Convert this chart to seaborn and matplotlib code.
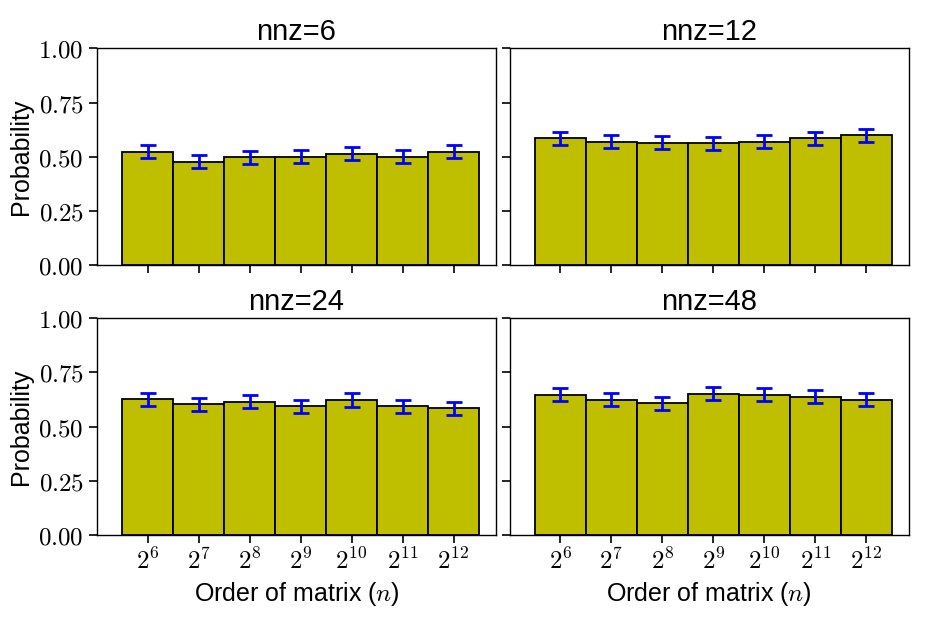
import numpy as np
import pandas as pd
import matplotlib
matplotlib.use("Agg")
import matplotlib.pyplot as plt
import seaborn as sns

# --- data ---
orders = [r"$2^{6}$", r"$2^{7}$", r"$2^{8}$", r"$2^{9}$", r"$2^{10}$", r"$2^{11}$", r"$2^{12}$"]
nnz_values = [6, 12, 24, 48]
prob_nnz6 = [0.523, 0.477, 0.497, 0.499, 0.515, 0.499, 0.523]
prob_nnz12 = [0.586, 0.569, 0.564, 0.563, 0.569, 0.586, 0.600]
prob_nnz24 = [0.626, 0.603, 0.615, 0.595, 0.623, 0.595, 0.586]
prob_nnz48 = [0.647, 0.624, 0.608, 0.651, 0.647, 0.639, 0.624]
err_nnz6 = [0.03, 0.03, 0.03, 0.03, 0.03, 0.03, 0.03]
err_nnz12 = [0.03, 0.03, 0.03, 0.03, 0.03, 0.03, 0.03]
err_nnz24 = [0.03, 0.03, 0.03, 0.03, 0.03, 0.03, 0.03]
err_nnz48 = [0.03, 0.03, 0.03, 0.03, 0.03, 0.03, 0.03]
yticks = [0.0, 0.25, 0.5, 0.75, 1.0]
ytick_labels = [r"$0.00$", r"$0.25$", r"$0.50$", r"$0.75$", r"$1.00$"]

probs = [prob_nnz6, prob_nnz12, prob_nnz24, prob_nnz48]
errs = [err_nnz6, err_nnz12, err_nnz24, err_nnz48]

sns.set_style("ticks")
plt.rcParams["font.family"] = ["Liberation Sans", "DejaVu Sans"]
plt.rcParams["mathtext.fontset"] = "cm"
for key in ["text.color", "axes.labelcolor", "xtick.color", "ytick.color", "axes.edgecolor"]:
    plt.rcParams[key] = "black"

fig, axes = plt.subplots(2, 2, figsize=(9.33, 6.2), dpi=100, sharex=True, sharey=True)
fig.subplots_adjust(left=0.104, right=0.974, top=0.922, bottom=0.137, wspace=0.035, hspace=0.245)

for ax, nnz, p, e in zip(axes.flat, nnz_values, probs, errs):
    df = pd.DataFrame({"order": orders, "prob": p})
    sns.barplot(data=df, x="order", y="prob", color="#bfbf00", saturation=1,
                edgecolor="black", linewidth=1.3, width=1.0, errorbar=None, ax=ax)
    ax.errorbar(np.arange(len(orders)), p, yerr=e, fmt="none", ecolor="blue",
                elinewidth=2, capsize=6, capthick=2)
    ax.set_title(f"nnz={nnz}", fontsize=21)
    ax.set_ylim(0, 1)
    ax.set_xlim(-0.99, 6.83)
    ax.set_yticks(yticks)
    ax.set_yticklabels(ytick_labels, fontsize=18)
    ax.set_xticks(range(len(orders)))
    ax.set_xticklabels(orders, fontsize=18)
    ax.set_xlabel("")
    ax.set_ylabel("")
    for s in ax.spines.values():
        s.set_linewidth(1.0)
    ax.tick_params(direction="out", length=6, width=1.2, colors="black")

for ax in axes[:, 0]:
    ax.set_ylabel("Probability", fontsize=18)
for ax in axes[1, :]:
    ax.set_xlabel(r"Order of matrix ($n$)", fontsize=18)

fig.savefig("out.png", dpi=100)
